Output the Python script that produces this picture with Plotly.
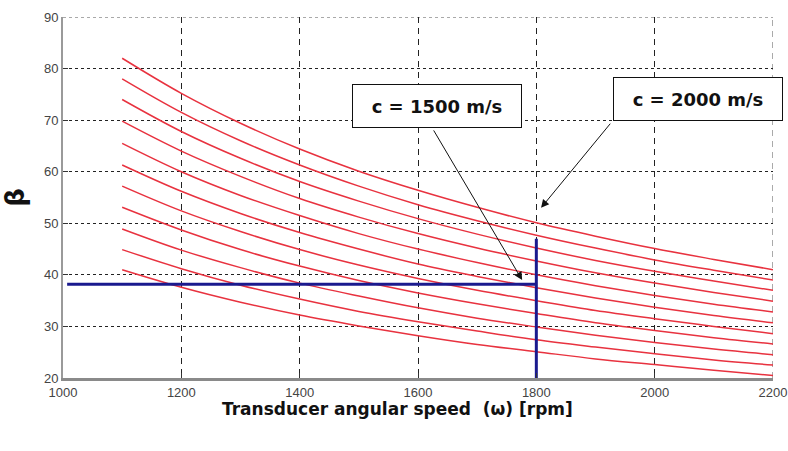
import plotly.graph_objects as go

# Transducer angular speed (rpm) at which each beta curve is sampled
speed_rpm = [1100, 1200, 1300, 1400, 1500, 1600, 1700, 1800, 1900, 2000, 2100, 2200]

# Beta curves, one per propagation speed c (top = highest)
beta_curves = [
    [82.0, 75.2, 69.4, 64.4, 60.1, 56.4, 53.1, 50.1, 47.5, 45.1, 43.0, 41.0],
    [78.0, 71.5, 66.0, 61.3, 57.2, 53.6, 50.5, 47.7, 45.2, 42.9, 40.9, 39.0],
    [74.0, 67.8, 62.6, 58.1, 54.3, 50.9, 47.9, 45.2, 42.8, 40.7, 38.8, 37.0],
    [69.8, 64.0, 59.1, 54.8, 51.2, 48.0, 45.2, 42.7, 40.4, 38.4, 36.6, 34.9],
    [65.5, 60.0, 55.4, 51.5, 48.0, 45.0, 42.4, 40.0, 37.9, 36.0, 34.3, 32.8],
    [61.3, 56.2, 51.9, 48.2, 45.0, 42.1, 39.7, 37.5, 35.5, 33.7, 32.1, 30.7],
    [57.2, 52.4, 48.4, 44.9, 41.9, 39.3, 37.0, 35.0, 33.1, 31.5, 30.0, 28.6],
    [53.1, 48.7, 44.9, 41.7, 38.9, 36.5, 34.4, 32.5, 30.7, 29.2, 27.8, 26.6],
    [48.9, 44.8, 41.4, 38.4, 35.9, 33.6, 31.6, 29.9, 28.3, 26.9, 25.6, 24.5],
    [44.9, 41.2, 38.0, 35.3, 32.9, 30.9, 29.1, 27.4, 26.0, 24.7, 23.5, 22.5],
    [41.0, 37.6, 34.7, 32.2, 30.1, 28.2, 26.5, 25.1, 23.7, 22.6, 21.5, 20.5],
]

# Operating point marked with the blue guide lines
guide_speed = 1800
guide_beta = 38.2
guide_x_start = 1007
guide_top = 47.0

x_ticks = [1000, 1200, 1400, 1600, 1800, 2000, 2200]
y_ticks = [20, 30, 40, 50, 60, 70, 80, 90]

# Callout labels: text, box centre, arrow tail and arrow tip (data units)
callouts = [
    {"text": "c = 1500 m/s", "box": (1632, 72.7), "tail": (1625, 68.3), "tip": (1776, 39.0)},
    {"text": "c = 2000 m/s", "box": (2074, 74.1), "tail": (1927, 69.6), "tip": (1808, 53.0)},
]

plot_left, plot_right, plot_top, plot_bottom = 63, 773, 17, 378
pw, ph = plot_right - plot_left, plot_bottom - plot_top
grid_color = "#222"

fig = go.Figure()

for curve in beta_curves:
    fig.add_trace(go.Scatter(
        x=speed_rpm, y=curve, mode="lines", line_shape="spline",
        line=dict(color="#e8323f", width=1.5), showlegend=False, hoverinfo="skip",
    ))

fig.add_trace(go.Scatter(
    x=[guide_x_start, guide_speed], y=[guide_beta, guide_beta], mode="lines",
    line=dict(color="#1a1a8e", width=3), showlegend=False,
))
fig.add_trace(go.Scatter(
    x=[guide_speed, guide_speed], y=[20, guide_top], mode="lines",
    line=dict(color="#1a1a8e", width=3), showlegend=False,
))

# grid lines on the top and right edges of the plot area
fig.add_shape(type="line", xref="x", yref="y", x0=1000, x1=2200, y0=90, y1=90,
              line=dict(color="#555", width=1, dash="3px,3px"), layer="below")
fig.add_shape(type="line", xref="x", yref="y", x0=2200, x1=2200, y0=20, y1=90,
              line=dict(color="#555", width=1, dash="6px,5px"), layer="below")

annotations = []
for c in callouts:
    annotations.append(dict(
        x=c["tip"][0], y=c["tip"][1], ax=c["tail"][0], ay=c["tail"][1],
        xref="x", yref="y", axref="x", ayref="y", text="", showarrow=True,
        arrowhead=2, arrowsize=1.6, arrowwidth=1, arrowcolor="#111",
    ))
    annotations.append(dict(
        x=c["box"][0], y=c["box"][1], xref="x", yref="y", text=c["text"],
        showarrow=False, width=168, height=42, borderpad=0, borderwidth=1,
        bordercolor="#111", bgcolor="white",
        font=dict(family="DejaVu Sans", size=18, color="#111", weight="bold"),
    ))

annotations.append(dict(
    x=(397 - plot_left) / pw, y=(plot_bottom - 409) / ph,
    xref="paper", yref="paper", xanchor="center", yanchor="middle",
    text="Transducer angular speed  (ω) [rpm]", showarrow=False,
    font=dict(family="DejaVu Sans", size=17, color="#111", weight="bold"),
))

tick_font = dict(family="Liberation Sans, Arial", size=13, color="#444")

fig.update_layout(
    width=788, height=451,
    margin=dict(l=plot_left, r=788 - plot_right, t=plot_top, b=451 - plot_bottom),
    paper_bgcolor="white", plot_bgcolor="white",
    annotations=annotations,
    xaxis=dict(
        range=[1000, 2200], tickvals=x_ticks, ticktext=[str(v) for v in x_ticks],
        showgrid=True, gridcolor=grid_color, gridwidth=1, griddash="6px,5px",
        showline=True, linecolor="#8a8a8a", linewidth=3,
        ticks="inside", ticklen=5, tickcolor="#333",
        tickfont=tick_font, ticklabeloverflow="allow", automargin=False,
        zeroline=False,
    ),
    yaxis=dict(
        range=[20, 90], tickvals=y_ticks, ticktext=[str(v) for v in y_ticks],
        showgrid=True, gridcolor=grid_color, gridwidth=1, griddash="3px,3px",
        showline=True, linecolor="#9a9a9a", linewidth=2,
        ticks="inside", ticklen=5, tickcolor="#333",
        tickfont=tick_font, automargin=False,
        title=dict(text="β", font=dict(family="DejaVu Sans", size=26, color="#111", weight="bold"), standoff=12),
        zeroline=False,
    ),
)

fig.write_html("out.html")
